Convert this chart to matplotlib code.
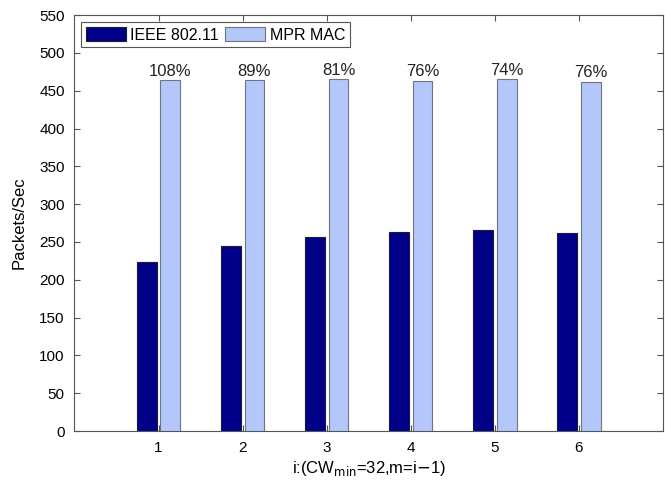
import numpy as np
import matplotlib
matplotlib.use('Agg')
from matplotlib import pyplot as plt

plt.rcParams['font.family'] = ['Liberation Sans', 'DejaVu Sans']

groups = [1, 2, 3, 4, 5, 6]
ieee = [223, 245, 257, 263, 266, 262]
mpr = [464, 464, 465, 463, 465, 462]
gain = ['108%', '89%', '81%', '76%', '74%', '76%']

fig = plt.figure(figsize=(6.65, 4.86), dpi=100)
ax = fig.add_axes([0.112, 0.113, 0.885, 0.856])

x = np.array(groups, dtype=float)
w = 0.235
ax.bar(x - 0.14, ieee, w, color='#000088', edgecolor='#1a1a3a', linewidth=0.8,
       label='IEEE 802.11', zorder=3)
ax.bar(x + 0.14, mpr, w, color='#b3c7fa', edgecolor='#6e7480', linewidth=0.8,
       label='MPR MAC', zorder=3)

for xi, v, s in zip(x, mpr, gain):
    ax.text(xi + 0.14, v + 2, s, ha='center', va='bottom', fontsize=12, color='#222222')

ax.set_xlim(0, 7)
ax.set_ylim(0, 550)
ax.set_xticks(groups)
ax.set_yticks(np.arange(0, 551, 50))
ax.tick_params(direction='in', top=True, right=True, labelsize=11, length=4,
               color='#555555', pad=7)
for sp in ax.spines.values():
    sp.set_color('#555555')

ax.set_ylabel('Packets/Sec', fontsize=12, labelpad=9)
ax.set_xlabel(r'i:(CW$_{\mathrm{min}}$=32,m=i$-$1)', fontsize=12, labelpad=3)

leg = ax.legend(loc='upper left', ncol=2, fontsize=11.5, fancybox=False, framealpha=1,
                edgecolor='#555555', handlelength=2.5, handleheight=1.0,
                columnspacing=0.4, handletextpad=0.3, borderpad=0.3,
                borderaxespad=0.0, bbox_to_anchor=(0.011, 0.983))
leg.get_frame().set_linewidth(0.8)

fig.savefig('out.png', dpi=100)
